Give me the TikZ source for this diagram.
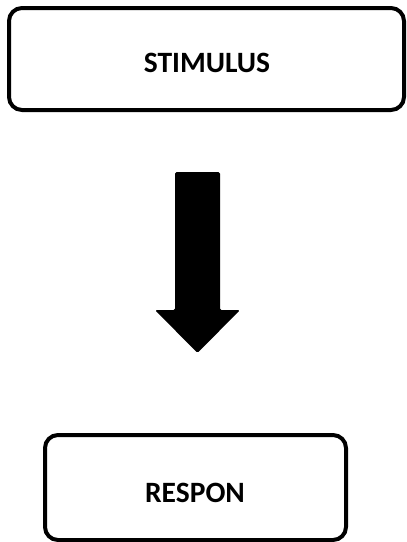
\documentclass[tikz,border=0pt]{standalone}
\usepackage{fontspec}
\setmainfont{Carlito}
\begin{document}
\begin{tikzpicture}[x=1pt,y=-1pt,
  boxstyle/.style={draw=black,line width=4pt,rounded corners=13pt,fill=white},
  labelstyle/.style={font=\bfseries\fontsize{29.5}{31}\selectfont,anchor=base,inner sep=0pt}]
\useasboundingbox (0,0) rectangle (407,542);
\fill[white] (0,0) rectangle (407,542);
% top box
\draw[boxstyle] (9,8) rectangle (404,110);
\node[labelstyle] (stim) at (207,72) {STIMULUS};
% bottom box
\draw[boxstyle] (45,435) rectangle (346,540);
\node[labelstyle] (resp) at (195,502) {RESPON};
% block arrow
\fill[black,rounded corners=1.5pt] (175,172) -- (220,172) -- (220,310) -- (240,310)
  -- (197.5,353) -- (155,310) -- (175,310) -- cycle;
\end{tikzpicture}
\end{document}
